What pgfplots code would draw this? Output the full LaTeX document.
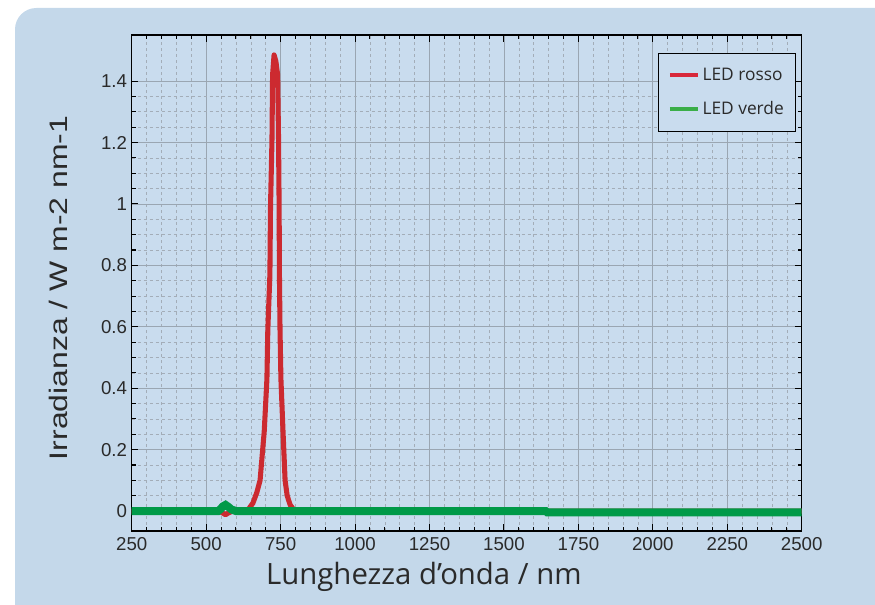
\documentclass[border=0pt]{standalone}
\usepackage{fontspec}
\setmainfont{Liberation Sans}
\newfontfamily\labelfont{Open Sans}
\usepackage{pgfplots}
\pgfplotsset{compat=1.18}
\definecolor{bgblue}{HTML}{C4D8EA}
\definecolor{plotbg}{HTML}{C9DCEE}
\definecolor{gridmaj}{HTML}{9AA6B2}
\definecolor{gridmin}{HTML}{A3ADB8}
\definecolor{ledred}{HTML}{CC2A30}
\definecolor{ledgreen}{HTML}{009A48}
\definecolor{legred}{HTML}{D8283A}
\definecolor{leggreen}{HTML}{3AAE48}
\definecolor{txt}{HTML}{2A2A2A}
\begin{document}
\begin{tikzpicture}
\useasboundingbox (0pt,0pt) rectangle (656.25pt,453pt);
\fill[bgblue, rounded corners=16pt] (11.25pt,-40pt) rectangle (700pt,447pt);
\begin{axis}[
  at={(98.8pt,54.75pt)}, anchor=south west,
  scale only axis, width=502.5pt, height=372pt,
  xmin=250, xmax=2500, ymin=-0.065, ymax=1.55,
  axis background/.style={fill=plotbg},
  axis line style={black, line width=1.1pt},
  xtick={250,500,...,2500},
  xticklabels={250,500,750,1000,1250,1500,1750,2000,2250,2500},
  ytick={0,0.2,0.4,0.6,0.8,1,1.2,1.4},
  yticklabels={0,0.2,0.4,0.6,0.8,1,1.2,1.4},
  minor x tick num=4, minor y tick num=3,
  tick align=inside,
  major tick length=5pt, minor tick length=3pt,
  tick style={black, line width=0.8pt},
  xmajorgrids, ymajorgrids, xminorgrids, yminorgrids,
  major grid style={gridmaj, line width=0.6pt},
  minor grid style={gridmin, line width=0.5pt, dash pattern=on 2.5pt off 2pt},
  ticklabel style={font=\fontsize{14}{16}\selectfont, text=txt},
  /pgf/number format/assume math mode=true,
  xticklabel style={yshift=-1pt},
  xlabel={\labelfont\fontsize{22}{26}\selectfont Lunghezza d’onda / nm},
  xlabel style={at={(axis description cs:0.436,-0.093)}, anchor=center, text=txt},
  ylabel={\scalebox{1.26}[1]{\fontsize{19}{22}\selectfont Irradianza / W m-2 nm-1}},
  ylabel style={at={(axis description cs:-0.110,0.49)}, anchor=center, rotate=0, text=txt},
  legend style={at={(axis description cs:0.7855,0.9637)}, anchor=north west,
    draw=black, line width=0.8pt, fill=plotbg,
    font=\labelfont\fontsize{13}{15}\selectfont, text=txt,
    inner xsep=7pt, inner ysep=9pt, row sep=10pt, cells={anchor=west}},
  legend image code/.code={\draw[#1] (0pt,0pt) -- (21pt,0pt);},
  clip=true,
]
\addlegendimage{legred, line width=3pt}
\addlegendentry{LED rosso}
\addlegendimage{leggreen, line width=3pt}
\addlegendentry{LED verde}
% LED rosso
\addplot[ledred, line width=3.8pt, line join=round, forget plot] coordinates {
(250,0) (540,0) (555,-0.006) (565,-0.012) (575,-0.006) (590,0) (620,0)
(640,0.003) (657,0.026) (670,0.06) (681,0.10) (695,0.26) (704,0.43)
(707,0.59) (714,0.77) (716,0.99) (721,1.21) (723,1.42) (728,1.485)
(734,1.465) (740,1.42) (743,1.21) (745,0.99) (746,0.77) (748,0.59)
(751,0.43) (758,0.26) (765,0.10) (772,0.05) (782,0.02) (795,0.003)
(810,0) (2500,0)
};
% LED verde
\addplot[ledgreen, line width=6pt, forget plot] coordinates {
(250,0) (540,0) (548,0.006) (556,0.015) (565,0.02) (574,0.014) (585,0.005)
(600,0) (1640,0) (1645,-0.004) (2500,-0.004)
};
\end{axis}
\end{tikzpicture}
\end{document}
